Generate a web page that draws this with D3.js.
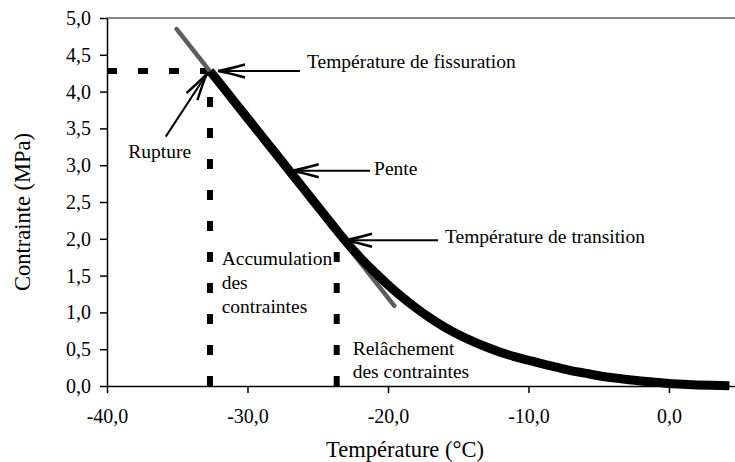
<!DOCTYPE html>
<html>
<head>
<meta charset="utf-8">
<script src="https://cdn.jsdelivr.net/npm/d3@7"></script>
<style>
  body { margin: 0; background: #fff; }
  text { font-family: "Liberation Serif", "Times New Roman", serif; fill: #000; }
</style>
</head>
<body>
<div id="container"></div>
<script>
// courbe contrainte / température
var temperatures = [-32.67, -32, -31, -30, -29, -28, -27, -26, -25, -24, -23, -22, -21, -20,
                    -19, -18, -17, -16, -15, -14, -13, -12, -11, -10, -9, -8, -7, -6, -5, -4, -3, -2, -1, 0, 1, 2, 3, 4.3];
var contraintes = [4.28, 4.12, 3.88, 3.64, 3.40, 3.16, 2.92, 2.68, 2.44, 2.20, 1.965, 1.75, 1.555, 1.375,
                   1.21, 1.06, 0.925, 0.805, 0.70, 0.61, 0.53, 0.46, 0.40, 0.35, 0.30, 0.255, 0.21, 0.175, 0.14, 0.112, 0.088, 0.067, 0.05, 0.035, 0.024, 0.015, 0.009, 0.005];

// tangente (pente)
var penteT = [-35.04, -19.55];
var penteS = [4.85, 1.09];

// points remarquables
var tFissuration = -32.67, sFissuration = 4.28;
var tTransition = -23.65, sTransitionBas = 1.82;

var xTicks = [-40, -30, -20, -10, 0];
var yTicks = [0, 0.5, 1, 1.5, 2, 2.5, 3, 3.5, 4, 4.5, 5];

var annotations = [
  { label: "Température de fissuration", t: -32.1, s: 4.28 },
  { label: "Rupture", t: -32.9, s: 4.24 },
  { label: "Pente", t: -26.85, s: 2.925 },
  { label: "Température de transition", t: -23.06, s: 1.98 }
];

var W = 735, H = 462;
var x = d3.scaleLinear().domain([-40, 4.7]).range([107, 735]);
var y = d3.scaleLinear().domain([0, 5]).range([386, 18]);
var fmt = function(d) { return d.toFixed(1).replace(".", ","); };

var svg = d3.select("#container").append("svg")
            .attr("width", W)
            .attr("height", H);

// cadre haut gris
svg.append("line")
   .attr("x1", 107).attr("x2", 735)
   .attr("y1", 18).attr("y2", 18)
   .attr("stroke", "#888").attr("stroke-width", 2);

// axes
svg.append("g")
   .attr("transform", "translate(107,0)")
   .call(d3.axisLeft(y).tickValues(yTicks).tickFormat(fmt).tickSize(7).tickSizeOuter(0).tickPadding(9));
svg.append("g")
   .attr("transform", "translate(0,386)")
   .call(d3.axisBottom(x).tickValues(xTicks).tickFormat(fmt).tickSize(7).tickSizeOuter(0).tickPadding(16));

svg.selectAll(".tick text")
   .style("font-family", "'Liberation Serif', serif")
   .style("font-size", "20px");
svg.selectAll(".domain, .tick line")
   .attr("stroke", "#000").attr("stroke-width", 1.5);

// titres
svg.append("text")
   .attr("x", 405).attr("y", 457)
   .attr("text-anchor", "middle")
   .style("font-size", "22.5px")
   .text("Température (°C)");
svg.append("text")
   .attr("transform", "translate(30,212) rotate(-90)")
   .attr("text-anchor", "middle")
   .style("font-size", "22.5px")
   .text("Contrainte (MPa)");

// lignes pointillées
var dash = "10,21";
function dashed(pts) {
  svg.append("path")
     .attr("d", d3.line().x(function(d) { return x(d[0]); }).y(function(d) { return y(d[1]); })(pts))
     .attr("fill", "none")
     .attr("stroke", "#000")
     .attr("stroke-width", 6)
     .attr("stroke-dasharray", dash);
}
dashed([[tFissuration, sFissuration], [-40, sFissuration]]);
dashed([[tFissuration, 0], [tFissuration, sFissuration]]);
dashed([[tTransition, 0], [tTransition, sTransitionBas]]);

// tangente grise
svg.append("line")
   .attr("x1", x(penteT[0])).attr("y1", y(penteS[0]))
   .attr("x2", x(penteT[1])).attr("y2", y(penteS[1]))
   .attr("stroke", "#5c5c5c")
   .attr("stroke-width", 4.5)
   .attr("stroke-linecap", "round");

// courbe
var data = temperatures.map(function(t, i) { return [t, contraintes[i]]; });
svg.append("path")
   .attr("d", d3.line().curve(d3.curveMonotoneX)
                 .x(function(d) { return x(d[0]); })
                 .y(function(d) { return y(d[1]); })(data))
   .attr("fill", "none")
   .attr("stroke", "#000")
   .attr("stroke-width", 9);

// flèches + textes
// décalages en pixels : queue de flèche et texte
var layout = [
  { dx: 82, dy: 0, tx: 89, ty: -3 },
  { dx: -41, dy: 62.7, tx: -78.4, ty: 84.3 },
  { dx: 78.3, dy: 0, tx: 82.3, ty: 4.3 },
  { dx: 93, dy: 0, tx: 100, ty: 3 }
];

annotations.forEach(function(a, i) {
  var L = layout[i];
  var x2 = x(a.t), y2 = y(a.s);
  var x1 = x2 + L.dx, y1 = y2 + L.dy;
  var ang = Math.atan2(y1 - y2, x1 - x2) * 180 / Math.PI;
  svg.append("line")
     .attr("x1", x1).attr("y1", y1)
     .attr("x2", x2 + (x1 - x2) * 0.06).attr("y2", y2 + (y1 - y2) * 0.06)
     .attr("stroke", "#000").attr("stroke-width", 2);
  svg.append("path")
     .attr("transform", "translate(" + x2 + "," + y2 + ") rotate(" + ang + ")")
     .attr("d", "M27,-6.5 Q9,-1.5 0,0 Q9,1.5 27,6.5")
     .attr("fill", "none")
     .attr("stroke", "#000")
     .attr("stroke-width", 2.4);
  svg.append("text")
     .attr("x", x2 + L.tx).attr("y", y2 + L.ty)
     .style("font-size", "19.5px")
     .text(a.label);
});

// textes des zones
var zoneAcc = ["Accumulation", "des", "contraintes"];
var zoneRel = ["Relâchement", "des contraintes"];
svg.selectAll("text.acc")
   .data(zoneAcc)
   .enter()
   .append("text")
   .attr("class", "acc")
   .attr("x", x(tFissuration) + 11.7)
   .attr("y", function(d, i) { return 265 + i * 24.2; })
   .style("font-size", "19.5px")
   .text(function(d) { return d; });
svg.selectAll("text.rel")
   .data(zoneRel)
   .enter()
   .append("text")
   .attr("class", "rel")
   .attr("x", x(tTransition) + 16)
   .attr("y", function(d, i) { return 355 + i * 23.3; })
   .style("font-size", "19.5px")
   .text(function(d) { return d; });
</script>
</body>
</html>
